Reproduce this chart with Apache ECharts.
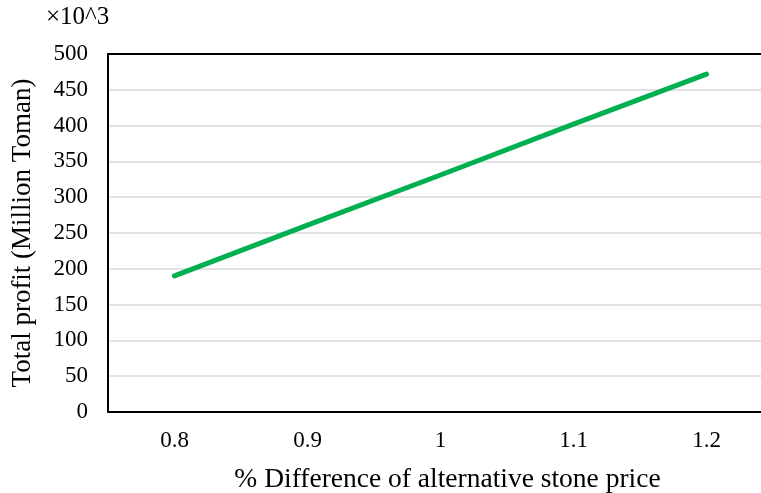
<!DOCTYPE html>
<html><head><meta charset="utf-8">
<script src="https://cdn.jsdelivr.net/npm/echarts@6/dist/echarts.min.js"></script>
<style>html,body{margin:0;padding:0;background:#fff}#c{width:761px;height:493px}</style>
</head><body><div id="c"></div>
<script>
const categories = ['0.8', '0.9', '1', '1.1', '1.2'];
const profit = [190, 261, 331, 402, 472];
const yTicks = {min: 0, max: 500, interval: 50};
const font = 'Liberation Serif, Times New Roman, serif';
const chart = echarts.init(document.getElementById('c'));
chart.setOption({
  animation: false,
  grid: {left: 108, top: 54, bottom: 81, width: 665, outerBoundsMode: 'none', containLabel: false},
  graphic: [{type: 'text', left: 46, top: 5, style: {text: '×10^3', font: '25px ' + font, fill: '#000'}}],
  xAxis: [{
    type: 'category', data: categories, boundaryGap: true,
    axisLine: {lineStyle: {color: '#000', width: 2}},
    axisTick: {show: false},
    axisLabel: {color: '#000', fontFamily: font, fontSize: 23, margin: 17},
    name: '% Difference of alternative stone price', nameLocation: 'middle', nameGap: 54,
    nameTextStyle: {color: '#000', fontFamily: font, fontSize: 27.5, padding: [0, 0, 0, 14]}
  }, {
    type: 'category', data: categories, position: 'top',
    axisLine: {lineStyle: {color: '#000', width: 2}},
    axisTick: {show: false}, axisLabel: {show: false}
  }],
  yAxis: {
    type: 'value', min: yTicks.min, max: yTicks.max, interval: yTicks.interval,
    axisLine: {show: true, lineStyle: {color: '#000', width: 2}},
    axisTick: {show: false},
    splitLine: {lineStyle: {color: '#d9d9d9', width: 1.5}},
    axisLabel: {color: '#000', fontFamily: font, fontSize: 23, margin: 20},
    name: 'Total profit (Million Toman)', nameLocation: 'middle', nameGap: 72,
    nameTextStyle: {color: '#000', fontFamily: font, fontSize: 27}
  },
  series: [{
    type: 'line', data: profit, showSymbol: false, symbol: 'none',
    lineStyle: {color: '#00B050', width: 5, cap: 'round'}
  }]
});
</script></body></html>
